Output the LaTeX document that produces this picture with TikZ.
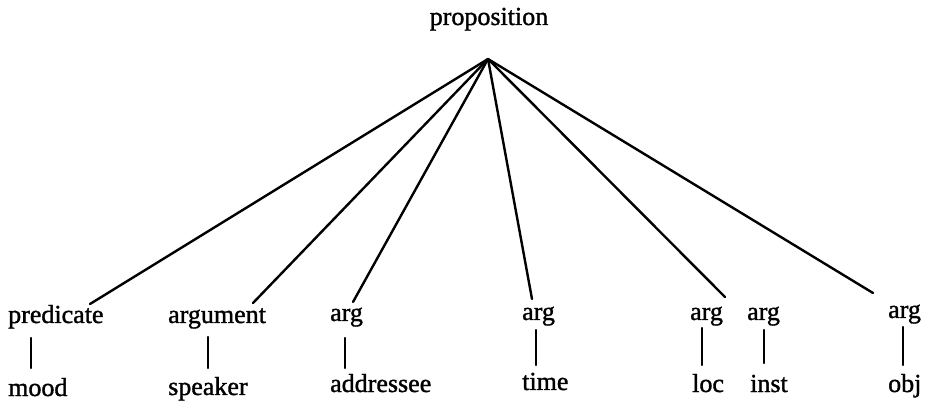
\documentclass[tikz,border=0pt]{standalone}
\usepackage{fontspec}
\setmainfont{Liberation Serif}[FakeBold=1.3]
\begin{document}
\begin{tikzpicture}[x=1pt,y=-1pt,
  lbl/.style={inner sep=0pt,anchor=base west,font=\fontsize{26}{29}\selectfont},
  branch/.style={line width=2.4pt,line cap=round},
  stem/.style={line width=2.2pt,line cap=round}]
\useasboundingbox (0,0) rectangle (927,403);
% root
\node[lbl,anchor=base] (prop) at (489,25) {proposition};
\coordinate (apex) at (488,59);
% first row
\node[lbl] (pred) at (8,323) {predicate};
\node[lbl] (argu) at (168,323) {argument};
\node[lbl] (a1) at (330,321) {arg};
\node[lbl] (a2) at (522,320) {arg};
\node[lbl] (a3) at (690,320) {arg};
\node[lbl] (a4) at (747,320) {arg};
\node[lbl] (a5) at (888,318) {arg};
% second row
\node[lbl] (mood) at (8,396) {mood};
\node[lbl] (spk) at (168,395) {speaker};
\node[lbl] (addr) at (330,392) {addressee};
\node[lbl] (time) at (522,390) {time};
\node[lbl] (loc) at (692,392) {loc};
\node[lbl] (inst) at (750,392) {inst};
\node[lbl] (obj) at (888,392) {obj};
% ends of the branches
\coordinate (e1) at (90,304);
\coordinate (e2) at (253,303);
\coordinate (e3) at (353,302);
\coordinate (e4) at (532,299);
\coordinate (e5) at (725,297);
\coordinate (e6) at (873,293);
\foreach \e in {e1,e2,e3,e4,e5,e6} \draw[branch] (apex) -- (\e);
% stems
\draw[stem] (31,338) -- (31,368);
\draw[stem] (208,337) -- (208,368);
\draw[stem] (345,338) -- (345,368);
\draw[stem] (536,330) -- (536,365);
\draw[stem] (702,328) -- (702,365);
\draw[stem] (764,330) -- (764,363);
\draw[stem] (903,327) -- (903,365);
\end{tikzpicture}
\end{document}
